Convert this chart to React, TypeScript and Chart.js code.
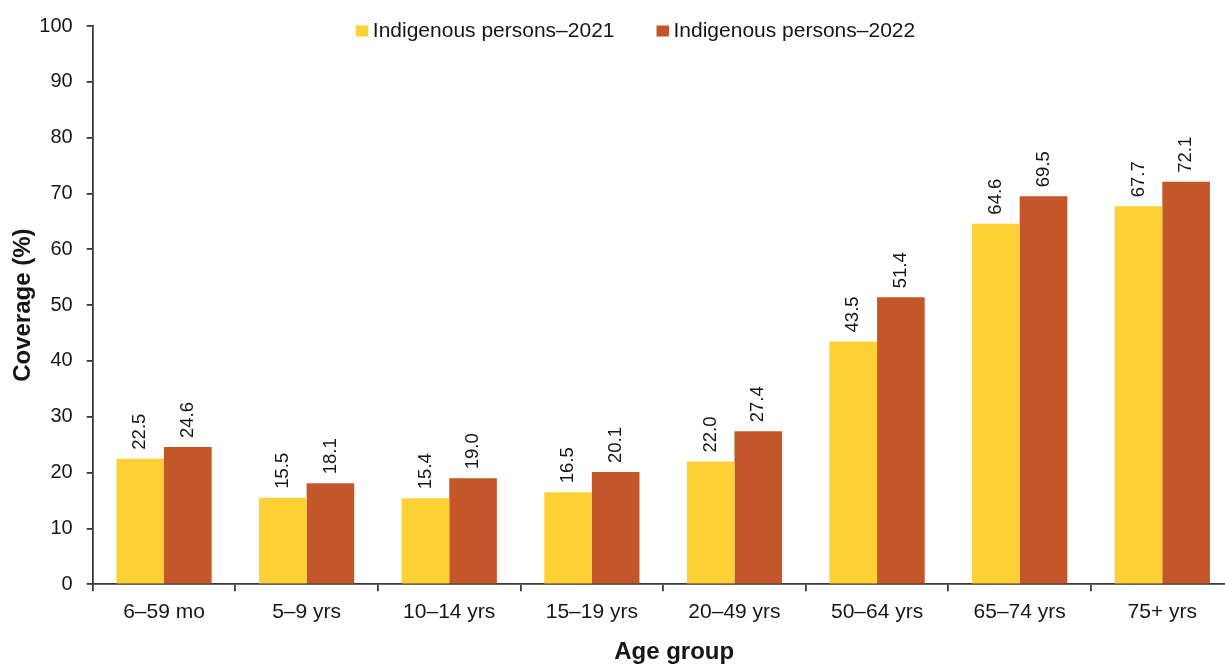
import React, { useEffect, useRef } from "react";
import { Chart, registerables } from "chart.js";

Chart.register(...registerables);

const categories = [
  "6–59 mo",
  "5–9 yrs",
  "10–14 yrs",
  "15–19 yrs",
  "20–49 yrs",
  "50–64 yrs",
  "65–74 yrs",
  "75+ yrs",
];
const seriesLabels = ["Indigenous persons–2021", "Indigenous persons–2022"];
const values2021 = [22.5, 15.5, 15.4, 16.5, 22.0, 43.5, 64.6, 67.7];
const values2022 = [24.6, 18.1, 19.0, 20.1, 27.4, 51.4, 69.5, 72.1];
const yMin = 0;
const yMax = 100;
const yStep = 10;
const xTitle = "Age group";
const yTitle = "Coverage (%)";

const COLORS = ["#FDD035", "#C4572A"];
const FONT = "'Liberation Sans', Arial, Helvetica, sans-serif";
const TEXT = "#161616";
const AXIS = "#3a3a3a";

const CANVAS_W = 1240;
const CANVAS_H = 666;

const valueLabelPlugin = {
  id: "valueLabels",
  afterDatasetsDraw(chart: any) {
    const ctx = chart.ctx;
    ctx.save();
    ctx.font = `18.5px ${FONT}`;
    ctx.fillStyle = TEXT;
    ctx.textAlign = "left";
    ctx.textBaseline = "middle";
    chart.data.datasets.forEach((ds: any, i: number) => {
      const meta = chart.getDatasetMeta(i);
      meta.data.forEach((bar: any, j: number) => {
        const v = ds.data[j];
        ctx.save();
        ctx.translate(bar.x, bar.y - 9);
        ctx.rotate(-Math.PI / 2);
        ctx.fillText(Number(v).toFixed(1), 0, 0);
        ctx.restore();
      });
    });
    ctx.restore();
  },
};

const legendPlugin = {
  id: "customLegend",
  afterDraw(chart: any) {
    const ctx = chart.ctx;
    const fontSize = 21;
    const boxW = 12.5;
    const boxH = 11;
    const gap = 4.5;
    const spacing = 42;
    const centerX = 635.5;
    const centerY = 31;
    ctx.save();
    ctx.font = `${fontSize}px ${FONT}`;
    const items = chart.data.datasets.map((ds: any) => ({
      label: ds.label,
      color: ds.backgroundColor,
      w: boxW + gap + ctx.measureText(ds.label).width,
    }));
    const total =
      items.reduce((s: number, it: any) => s + it.w, 0) +
      spacing * (items.length - 1);
    let x = centerX - total / 2;
    items.forEach((it: any) => {
      ctx.fillStyle = it.color;
      ctx.fillRect(x, centerY - boxH / 2, boxW, boxH);
      ctx.fillStyle = TEXT;
      ctx.textAlign = "left";
      ctx.textBaseline = "middle";
      ctx.fillText(it.label, x + boxW + gap, centerY);
      x += it.w + spacing;
    });
    ctx.restore();
  },
};

const xTitlePlugin = {
  id: "xTitle",
  afterDraw(chart: any) {
    const ctx = chart.ctx;
    ctx.save();
    ctx.font = `bold 24px ${FONT}`;
    ctx.fillStyle = TEXT;
    ctx.textAlign = "center";
    ctx.textBaseline = "middle";
    const cx = (chart.chartArea.left + chart.chartArea.right) / 2 + 11;
    ctx.fillText(xTitle, cx, 652);
    ctx.restore();
  },
};

export default function App() {
  const canvasRef = useRef<HTMLCanvasElement | null>(null);

  useEffect(() => {
    if (!canvasRef.current) return;
    const chart = new Chart(canvasRef.current, {
      type: "bar",
      data: {
        labels: categories,
        datasets: [
          {
            label: seriesLabels[0],
            data: values2021,
            backgroundColor: COLORS[0],
            borderWidth: 0,
            categoryPercentage: 0.668,
            barPercentage: 1,
          },
          {
            label: seriesLabels[1],
            data: values2022,
            backgroundColor: COLORS[1],
            borderWidth: 0,
            categoryPercentage: 0.668,
            barPercentage: 1,
          },
        ],
      },
      options: {
        responsive: false,
        animation: false,
        devicePixelRatio: 1,
        layout: { padding: { top: 22.7, right: 6.4, left: 0, bottom: 0 } },
        plugins: {
          legend: { display: false },
          tooltip: { enabled: false },
          title: { display: false },
        },
        scales: {
          x: {
            type: "category",
            offset: true,
            grid: {
              display: true,
              drawOnChartArea: false,
              drawTicks: true,
              tickLength: 7,
              color: AXIS,
              lineWidth: 1.8,
              offset: true,
            },
            border: { display: true, color: AXIS, width: 1.8 },
            ticks: {
              color: TEXT,
              font: { family: FONT, size: 21 },
              padding: 8,
              maxRotation: 0,
              autoSkip: false,
            },
            title: { display: false },
            afterFit(scale: any) {
              scale.height = CANVAS_H - 584.3;
            },
          },
          y: {
            min: yMin,
            max: yMax,
            grid: {
              display: true,
              drawOnChartArea: false,
              drawTicks: true,
              tickLength: 6,
              color: AXIS,
              lineWidth: 1.8,
            },
            border: { display: true, color: AXIS, width: 1.8 },
            ticks: {
              stepSize: yStep,
              color: TEXT,
              font: { family: FONT, size: 20 },
              padding: 14,
            },
            title: {
              display: true,
              text: yTitle,
              color: TEXT,
              font: { family: FONT, size: 24, weight: "bold" },
              padding: { top: 9, bottom: 0 },
            },
            afterFit(scale: any) {
              scale.width = 92.7;
            },
          },
        },
      },
      plugins: [valueLabelPlugin, legendPlugin, xTitlePlugin],
    });
    return () => chart.destroy();
  }, []);

  return (
    <div
      style={{
        position: "fixed",
        left: 0,
        top: 0,
        width: 1225,
        height: 666,
        overflow: "hidden",
        background: "#ffffff",
      }}
    >
      <canvas
        ref={canvasRef}
        width={CANVAS_W}
        height={CANVAS_H}
        style={{ display: "block", width: CANVAS_W, height: CANVAS_H }}
      />
    </div>
  );
}
